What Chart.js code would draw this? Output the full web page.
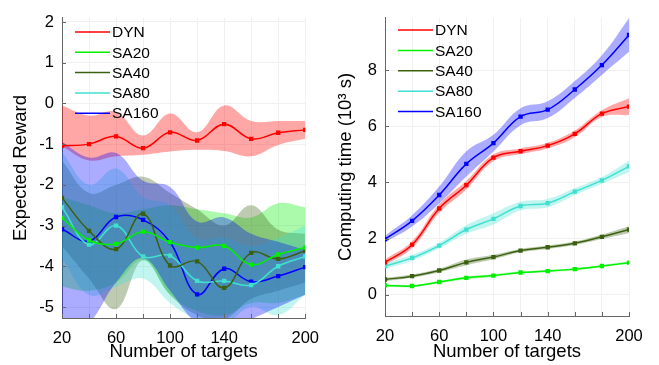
<!DOCTYPE html>
<html lang="en">
<head>
<meta charset="UTF-8">
<title>Expected reward and computing time</title>
<style type="text/css">
    body { margin:0; background:#fff; }
    .box { position:absolute; top:0; height:365px; }
    #boxL { left:0; width:330px; }
    #boxR { left:330px; width:329px; }
</style>
</head>
<body>
<div class="box" id="boxL"><canvas id="rewardChart"></canvas></div>
<div class="box" id="boxR"><canvas id="timeChart"></canvas></div>

<script src="https://cdn.jsdelivr.net/npm/chart.js"></script>
<script>
const targets = [20, 40, 60, 80, 100, 120, 140, 160, 180, 200];
const names = ['DYN', 'SA20', 'SA40', 'SA80', 'SA160'];
const lineColors = ['#ff0000', '#00f000', '#3b6010', '#40e0d0', '#0000ff'];
const fillColors = ['rgba(255,0,0,0.35)', 'rgba(0,240,0,0.33)', 'rgba(59,96,16,0.33)', 'rgba(64,224,208,0.33)', 'rgba(0,0,255,0.33)'];

// expected reward (left)
const rewardDYN   = [-1.04, -1.0, -0.81, -1.1, -0.71, -0.91, -0.51, -0.87, -0.72, -0.65];
const rewardSA20  = [-2.81, -3.36, -3.45, -3.15, -3.41, -3.54, -3.50, -3.96, -3.71, -3.54];
const rewardSA40  = [-2.32, -3.13, -3.58, -2.71, -3.98, -3.88, -4.53, -3.67, -3.82, -3.62];
const rewardSA80  = [-2.55, -3.47, -3.0, -3.76, -3.74, -4.36, -4.36, -4.46, -4.0, -3.76];
const rewardSA160 = [-3.09, -3.38, -2.79, -2.86, -3.41, -4.69, -4.06, -4.38, -4.24, -4.02];

const rewardHiDYN   = [-0.05, -0.3, -0.21, -0.79, -0.25, -0.71, -0.05, -0.43, -0.43, -0.43];
const rewardLoDYN   = [-1.05, -1.4, -1.3, -1.26, -1.18, -1.14, -1.17, -1.3, -1.02, -0.87];
const rewardHiSA20  = [-2.3, -2.5, -2.7, -2.6, -2.5, -2.6, -2.7, -2.8, -2.45, -2.55];
const rewardLoSA20  = [-4.5, -4.6, -4.4, -3.85, -4.7, -5.1, -5.2, -4.9, -4.9, -4.7];
const rewardHiSA40  = [-1.4, -2.2, -2.0, -1.8, -2.2, -2.6, -3.0, -2.5, -3.1, -3.2];
const rewardLoSA40  = [-3.5, -4.3, -5.05, -3.85, -4.7, -5.2, -5.3, -4.8, -4.6, -4.4];
const rewardHiSA80  = [-1.2, -2.0, -1.6, -2.3, -2.5, -3.3, -3.3, -3.5, -3.3, -3.0];
const rewardLoSA80  = [-3.8, -4.7, -4.5, -4.3, -4.9, -5.3, -5.4, -5.0, -5.2, -4.7];
const rewardHiSA160 = [-0.95, -1.33, -1.22, -1.9, -2.05, -2.9, -2.8, -3.2, -3.4, -3.6];
const rewardLoSA160 = [-5.8, -5.4, -4.4, -3.8, -4.6, -5.4, -5.6, -5.3, -5.0, -4.7];

// computing time in 10^3 s (right)
const timeDYN   = [1.15, 1.78, 3.07, 3.9, 4.88, 5.11, 5.31, 5.73, 6.45, 6.70];
const timeSA20  = [0.33, 0.31, 0.45, 0.60, 0.68, 0.79, 0.84, 0.91, 1.02, 1.14];
const timeSA40  = [0.54, 0.66, 0.86, 1.15, 1.34, 1.57, 1.69, 1.83, 2.06, 2.32];
const timeSA80  = [1.02, 1.31, 1.75, 2.32, 2.70, 3.16, 3.26, 3.67, 4.07, 4.57];
const timeSA160 = [1.98, 2.63, 3.55, 4.66, 5.40, 6.34, 6.59, 7.31, 8.18, 9.25];

const spreadDYN   = [0.1, 0.12, 0.15, 0.15, 0.12, 0.1, 0.1, 0.12, 0.12, 0.3];
const spreadSA20  = [0.04, 0.04, 0.04, 0.05, 0.05, 0.04, 0.04, 0.04, 0.04, 0.04];
const spreadSA40  = [0.06, 0.06, 0.06, 0.1, 0.08, 0.06, 0.06, 0.06, 0.08, 0.12];
const spreadSA80  = [0.1, 0.1, 0.1, 0.15, 0.2, 0.15, 0.15, 0.12, 0.12, 0.2];
const spreadSA160 = [0.12, 0.2, 0.3, 0.45, 0.3, 0.3, 0.3, 0.3, 0.35, 0.6];

const FONT = 'Liberation Sans, Arial, sans-serif';

function pts(ys) {
    return ys.map((y, i) => ({x: targets[i], y: y}));
}

function buildDatasets(means, his, los) {
    let lines = [], bands = [];
    for (let s = 0; s < names.length; s++) {
        lines.push({
            label: names[s], data: pts(means[s]), borderColor: lineColors[s], backgroundColor: lineColors[s],
            borderWidth: 1.5, pointStyle: 'rect', pointRadius: 2, tension: 0.4, fill: false, order: 0
        });
    }
    // fills are painted from the end of the list, so SA160 goes first to land on top
    for (let s = names.length - 1; s >= 0; s--) {
        bands.push({
            label: names[s] + ' hi', data: pts(his[s]), borderWidth: 0, pointRadius: 0, tension: 0.4,
            backgroundColor: fillColors[s], fill: '+1', order: 10
        });
        bands.push({
            label: names[s] + ' lo', data: pts(los[s]), borderWidth: 0, pointRadius: 0, tension: 0.4,
            fill: false, order: 10
        });
    }
    return lines.concat(bands);
}

// legend drawn inside the plot, plus little inward tick marks
const insidePlugin = {
    id: 'inside',
    afterDraw(chart, args, opts) {
        const ctx = chart.ctx, a = chart.chartArea;
        const xs = chart.scales.x, ys = chart.scales.y;
        ctx.save();
        ctx.strokeStyle = '#666';
        ctx.lineWidth = 1;
        ctx.beginPath();
        xs.ticks.forEach(t => {
            const px = Math.round(xs.getPixelForValue(t.value)) + 0.5;
            ctx.moveTo(px, a.bottom); ctx.lineTo(px, a.bottom - 4);
        });
        ys.ticks.forEach(t => {
            const py = Math.round(ys.getPixelForValue(t.value)) + 0.5;
            ctx.moveTo(a.left, py); ctx.lineTo(a.left + 4, py);
        });
        ctx.stroke();

        ctx.font = '15.5px ' + FONT;
        ctx.textBaseline = 'middle';
        for (let s = 0; s < names.length; s++) {
            const y = opts.y + s * opts.dy;
            ctx.strokeStyle = lineColors[s];
            ctx.lineWidth = 1.5;
            ctx.beginPath();
            ctx.moveTo(opts.x, y); ctx.lineTo(opts.x + 35, y);
            ctx.stroke();
            ctx.fillStyle = '#000';
            ctx.fillText(names[s], opts.x + 37, y + 1);
        }
        ctx.restore();
    }
};

function makeOptions(cfg) {
    return {
        responsive: true,
        maintainAspectRatio: false,
        animation: false,
        layout: {padding: {top: cfg.top, right: cfg.right, left: 0, bottom: 0}},
        plugins: {
            legend: {display: false},
            tooltip: {enabled: false},
            filler: {drawTime: 'beforeDatasetsDraw'},
            inside: cfg.legend
        },
        scales: {
            x: {
                type: 'linear', min: 20, max: 200,
                afterFit: s => { s.height = 365 - cfg.bottom; },
                grid: {color: '#f0f0f0', drawTicks: false},
                border: {color: '#666'},
                ticks: {
                    stepSize: 20, padding: 11, color: '#000', maxRotation: 0, autoSkip: false,
                    font: {family: FONT, size: 16.5},
                    callback: v => ([20, 60, 100, 140, 200].includes(v) ? String(v) : '')
                },
                title: {display: true, text: 'Number of targets', color: '#000', font: {family: FONT, size: 18.5}, padding: {top: 0, bottom: 2}}
            },
            y: {
                min: cfg.ymin, max: cfg.ymax,
                afterFit: s => { s.width = cfg.left; },
                grid: {color: '#f0f0f0', drawTicks: false},
                border: {color: '#666'},
                ticks: {
                    stepSize: cfg.ystep, includeBounds: false, padding: 8, color: '#000',
                    font: {family: FONT, size: 16.5}
                },
                title: {display: true, text: cfg.ytitle, color: '#000', font: {family: FONT, size: 18.5}, padding: {top: cfg.titlePad, bottom: 0}}
            }
        }
    };
}

new Chart(document.getElementById('rewardChart'), {
    type: 'line',
    data: {
        datasets: buildDatasets(
            [rewardDYN, rewardSA20, rewardSA40, rewardSA80, rewardSA160],
            [rewardHiDYN, rewardHiSA20, rewardHiSA40, rewardHiSA80, rewardHiSA160],
            [rewardLoDYN, rewardLoSA20, rewardLoSA40, rewardLoSA80, rewardLoSA160])
    },
    options: makeOptions({top: 10, right: 12, bottom: 318, left: 62, ymin: -5.27, ymax: 2.1, ystep: 1,
        ytitle: 'Expected Reward', titlePad: 10, legend: {x: 75, y: 32, dy: 20.3}}),
    plugins: [insidePlugin]
});

const hiOf = (m, d) => m.map((v, i) => v + d[i]);
const loOf = (m, d) => m.map((v, i) => v - d[i]);

new Chart(document.getElementById('timeChart'), {
    type: 'line',
    data: {
        datasets: buildDatasets(
            [timeDYN, timeSA20, timeSA40, timeSA80, timeSA160],
            [hiOf(timeDYN, spreadDYN), hiOf(timeSA20, spreadSA20), hiOf(timeSA40, spreadSA40), hiOf(timeSA80, spreadSA80), hiOf(timeSA160, spreadSA160)],
            [loOf(timeDYN, spreadDYN), loOf(timeSA20, spreadSA20), loOf(timeSA40, spreadSA40), loOf(timeSA80, spreadSA80), loOf(timeSA160, spreadSA160)])
    },
    options: makeOptions({top: 8, right: 30, bottom: 316, left: 55, ymin: -0.76, ymax: 9.86, ystep: 2,
        ytitle: 'Computing time (10³ s)', titlePad: 5, legend: {x: 68, y: 30, dy: 20.4}}),
    plugins: [insidePlugin]
});
</script>
</body>
</html>
